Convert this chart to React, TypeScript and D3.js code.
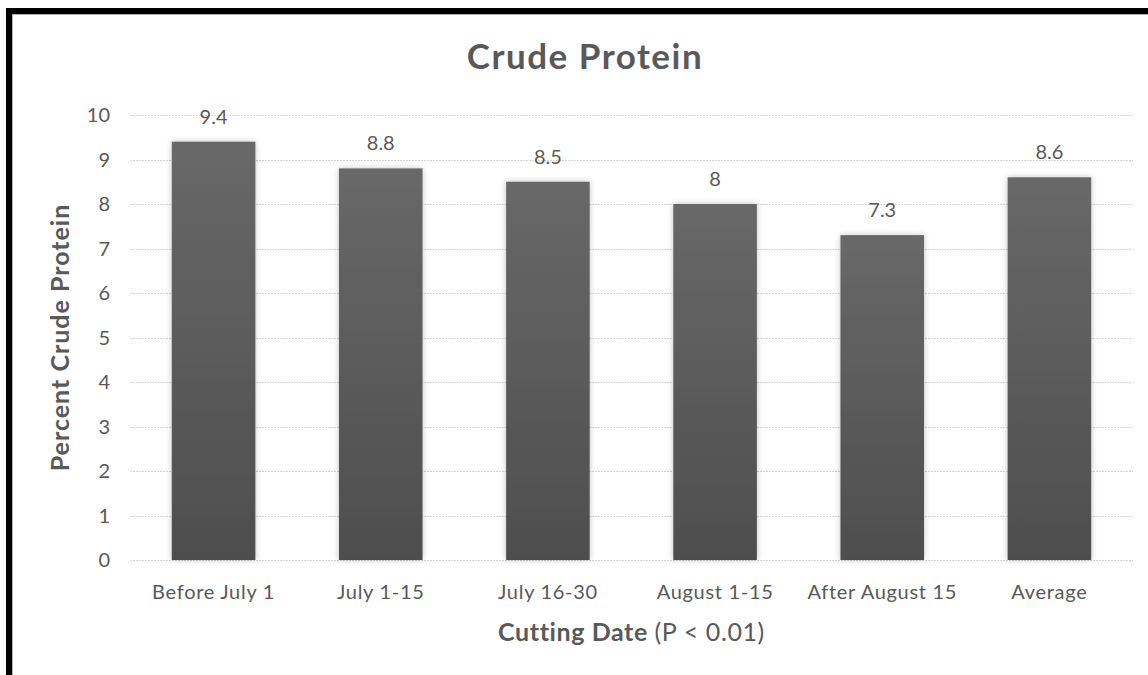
import { useEffect, useRef } from "react"
import * as d3 from "d3"

const categories = ["Before July 1", "July 1-15", "July 16-30", "August 1-15", "After August 15", "Average"]
const values = [9.4, 8.8, 8.5, 8, 7.3, 8.6]
const yTicks = [0, 1, 2, 3, 4, 5, 6, 7, 8, 9, 10]

const W = 1148
const H = 675
const FONT = "Lato, 'Open Sans', sans-serif"
const TEXT = "#595959"

export default function App() {
  const svgRef = useRef<SVGSVGElement>(null)

  useEffect(() => {
    if (!svgRef.current) return
    const svg = d3.select(svgRef.current)
    svg.selectAll("*").remove()

    const margin = { left: 130, right: 15, top: 115, bottom: 115 }
    const x = d3.scaleBand().domain(categories).range([margin.left, W - margin.right]).paddingInner(0.5).paddingOuter(0.25)
    const y = d3.scaleLinear().domain([0, 10]).range([H - margin.bottom, margin.top])

    svg.append("rect").attr("width", W).attr("height", H).attr("fill", "#fff")

    const defs = svg.append("defs")
    const grad = defs.append("linearGradient").attr("id", "barGrad").attr("x1", 0).attr("y1", 0).attr("x2", 0).attr("y2", 1)
    grad.append("stop").attr("offset", "0%").attr("stop-color", "#686868")
    grad.append("stop").attr("offset", "100%").attr("stop-color", "#4e4e4e")
    const shadow = defs.append("filter").attr("id", "glow").attr("x", "-20%").attr("y", "-10%").attr("width", "140%").attr("height", "120%")
    shadow.append("feGaussianBlur").attr("in", "SourceAlpha").attr("stdDeviation", 3).attr("result", "b")
    shadow.append("feComponentTransfer").append("feFuncA").attr("type", "linear").attr("slope", 0.25)
    const merge = shadow.append("feMerge")
    merge.append("feMergeNode")
    merge.append("feMergeNode").attr("in", "SourceGraphic")

    // frame
    svg.append("rect").attr("x", 6).attr("y", 8).attr("width", W - 6).attr("height", 6).attr("fill", "#000")
    svg.append("rect").attr("x", 6).attr("y", 8).attr("width", 6).attr("height", H - 8).attr("fill", "#000")
    svg.append("line").attr("x1", 12).attr("x2", W).attr("y1", 14.5).attr("y2", 14.5).attr("stroke", "#b0b0b0")
    svg.append("line").attr("x1", 12.5).attr("x2", 12.5).attr("y1", 14).attr("y2", H).attr("stroke", "#b0b0b0")

    // gridlines + ticks
    svg.append("g").selectAll("line").data(yTicks).join("line")
      .attr("x1", margin.left).attr("x2", W - margin.right)
      .attr("y1", (d) => Math.round(y(d)) + 0.5).attr("y2", (d) => Math.round(y(d)) + 0.5)
      .attr("stroke", "#d4d4d4").attr("stroke-width", 1).attr("stroke-dasharray", "2,1")
    svg.append("g").selectAll("text").data(yTicks).join("text")
      .attr("x", 110).attr("y", (d) => y(d)).attr("dy", "0.35em")
      .attr("text-anchor", "end").attr("font-family", FONT).attr("font-size", 20).attr("fill", TEXT)
      .text((d) => d)

    // bars
    svg.append("g").selectAll("rect").data(values).join("rect")
      .attr("x", (_, i) => x(categories[i])!).attr("width", x.bandwidth())
      .attr("y", (d) => y(d)).attr("height", (d) => y(0) - y(d))
      .attr("fill", "url(#barGrad)").attr("filter", "url(#glow)")

    // value labels
    svg.append("g").selectAll("text").data(values).join("text")
      .attr("x", (_, i) => x(categories[i])! + x.bandwidth() / 2).attr("y", (d) => y(d) - 25).attr("dy", "0.35em")
      .attr("text-anchor", "middle").attr("font-family", FONT).attr("font-size", 20).attr("fill", TEXT)
      .text((d) => d)

    // category labels
    svg.append("g").selectAll("text").data(categories).join("text")
      .attr("x", (d) => x(d)! + x.bandwidth() / 2).attr("y", y(0) + 32).attr("dy", "0.35em")
      .attr("text-anchor", "middle").attr("font-family", FONT).attr("font-size", 20).attr("letter-spacing", 0.7).attr("fill", TEXT)
      .text((d) => d)

    // title
    svg.append("text").attr("x", 585).attr("y", 57).attr("dy", "0.35em").attr("text-anchor", "middle")
      .attr("font-family", FONT).attr("font-size", 35).attr("font-weight", "bold").attr("letter-spacing", 1.5).attr("fill", TEXT)
      .text("Crude Protein")

    // x axis title
    const xt = svg.append("text").attr("x", (margin.left + W - margin.right) / 2).attr("y", 632).attr("dy", "0.35em")
      .attr("text-anchor", "middle").attr("font-family", FONT).attr("font-size", 25).attr("letter-spacing", 0.6).attr("fill", TEXT)
    xt.append("tspan").attr("font-weight", "bold").text("Cutting Date ")
    xt.append("tspan").text("(P < 0.01)")

    // y axis title
    svg.append("text").attr("transform", `translate(60,${(y(0) + y(10)) / 2}) rotate(-90)`).attr("dy", "0.35em")
      .attr("text-anchor", "middle").attr("font-family", FONT).attr("font-size", 25).attr("font-weight", "bold").attr("letter-spacing", 1).attr("fill", TEXT)
      .text("Percent Crude Protein")
  }, [])

  return <svg ref={svgRef} width={W} height={H} style={{ position: "absolute", left: 0, top: 0 }} />
}
